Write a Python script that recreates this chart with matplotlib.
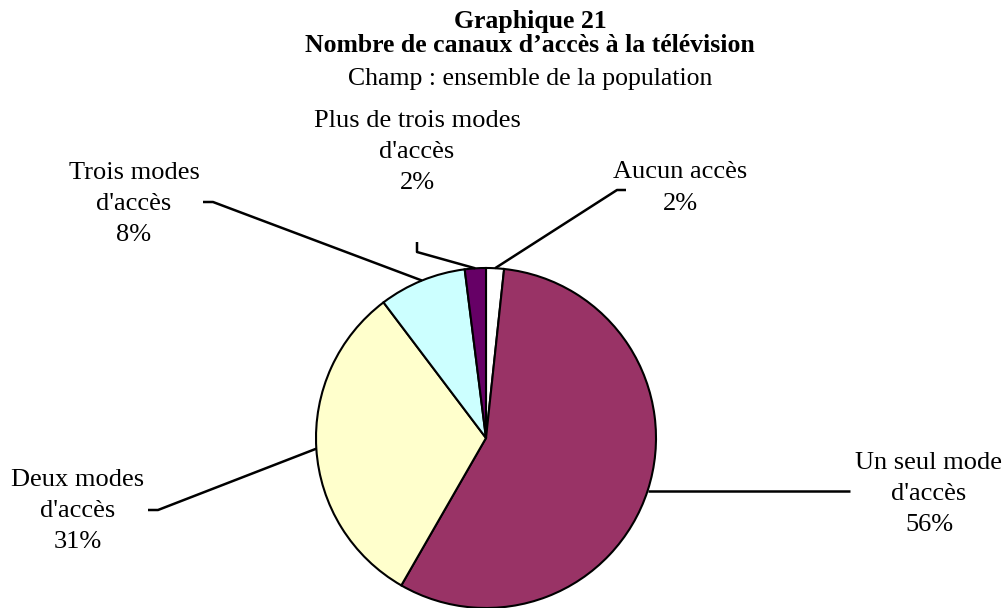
import numpy as np
import matplotlib.pyplot as plt

# --------------------------------------------------
# Data
# --------------------------------------------------
categories = ["Aucun accès", "Un seul mode\nd'accès", "Deux modes\nd'accès",
              "Trois modes\nd'accès", "Plus de trois modes\nd'accès"]
shares = [1.7, 56.6, 31.4, 8.3, 2.0]
pct_labels = ["2%", "56%", "31%", "8%", "2%"]
colors = ["#FFFFFF", "#993366", "#FFFFCC", "#CCFFFF", "#660066"]

# --------------------------------------------------
# Layout (pixel space, y measured from the top)
# --------------------------------------------------
W, H = 1004, 608
center = (486, 438)
radius = 170
# label centre and leader-line elbow / end for each slice
label_pos = [(680, 188), (929, 494), (78, 511), (134, 204), (417, 152)]
leader_pts = [[(617, 190), (626, 190)],
              [(850, None)],          # None -> keep the line horizontal
              [(158, 510), (148, 510)],
              [(213, 202), (203, 202)],
              [(417, 252), (417, 242)]]

plt.rcParams['font.family'] = ['Liberation Serif', 'DejaVu Serif']

fig = plt.figure(figsize=(W / 100, H / 100), dpi=100)
ax = fig.add_axes([0, 0, 1, 1])


def fy(y):
    # pixel row -> data y
    return H - y


wedges, _ = ax.pie(shares, colors=colors, startangle=90, counterclock=False,
                   center=(center[0], fy(center[1])), radius=radius,
                   wedgeprops=dict(edgecolor='black', linewidth=1.5),
                   frame=True)
ax.set_xlim(0, W)
ax.set_ylim(0, H)
ax.set_aspect('equal')
ax.axis('off')

# leader lines start at the middle of each slice's arc
for w, pts, (lx, ly), cat, pct in zip(wedges, leader_pts, label_pos,
                                      categories, pct_labels):
    mid = np.deg2rad((w.theta1 + w.theta2) / 2)
    x0 = center[0] + radius * np.cos(mid)
    y0 = fy(center[1]) + radius * np.sin(mid)
    xs = [x0] + [p[0] for p in pts]
    ys = [y0] + [y0 if p[1] is None else fy(p[1]) for p in pts]
    ax.plot(xs, ys, color='black', linewidth=1.8, solid_capstyle='butt')
    ax.text(lx, fy(ly), cat + "\n" + pct, ha='center', va='center',
            multialignment='center', fontsize=19, linespacing=1.55)

# titles
tx = 530 / W
fig.text(tx, 1 - 28 / H, "Graphique 21", ha='center', va='baseline',
         fontsize=18.5, fontweight='bold')
fig.text(tx, 1 - 52 / H, "Nombre de canaux d\u2019accès à la télévision",
         ha='center', va='baseline', fontsize=18.5, fontweight='bold')
fig.text(tx, 1 - 85 / H, "Champ : ensemble de la population",
         ha='center', va='baseline', fontsize=18.5)

fig.savefig("out.png", dpi=100)
